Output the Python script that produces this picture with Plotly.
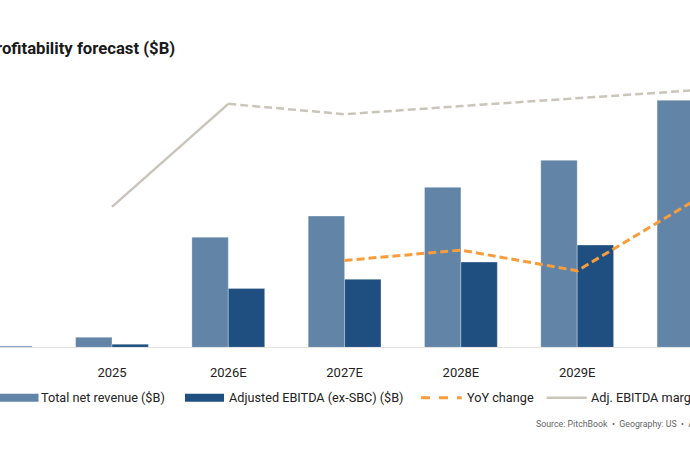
import plotly.graph_objects as go

# ---- data ----
years = ["2024", "2025", "2026E", "2027E", "2028E", "2029E", "2030E"]
revenue = [0.04, 0.42, 4.60, 5.48, 6.68, 7.81, 10.32]      # Total net revenue ($B)
ebitda = [0.04, 0.13, 2.46, 2.84, 3.56, 4.27, 5.90]        # Adjusted EBITDA (ex-SBC) ($B)
yoy_years = ["2027E", "2028E", "2029E", "2030E"]
yoy_pct = [19.3, 21.6, 17.0, 32.5]                          # YoY change (%)
margin_years = ["2025", "2026E", "2027E", "2028E", "2029E", "2030E"]
margin_pct = [31.2, 54.1, 51.8, 53.6, 55.3, 57.1]           # Adj. EBITDA margin (%)

legend_labels = ["Total net revenue ($B)", "Adjusted EBITDA (ex-SBC) ($B)",
                 "YoY change", "Adj. EBITDA margin"]

LIGHT = "#6184a7"
DARK = "#1f4f80"
ORANGE = "#f89d3c"
GRAY = "#c9c5bb"
FONT = "Roboto"

W, H = 690, 450
fig = go.Figure()

fig.add_trace(go.Bar(x=years, y=revenue, name=legend_labels[0], marker_color=LIGHT,
                     marker_line=dict(color="rgba(255,255,255,0.5)", width=0.6),
                     showlegend=False))
fig.add_trace(go.Bar(x=years, y=ebitda, name=legend_labels[1], marker_color=DARK,
                     marker_line=dict(color="rgba(255,255,255,0.5)", width=0.6),
                     showlegend=False))
fig.add_trace(go.Scatter(x=yoy_years, y=yoy_pct, yaxis="y2", mode="lines",
                         line=dict(color=ORANGE, width=3, dash="8px,4px"),
                         name=legend_labels[2], showlegend=False))
fig.add_trace(go.Scatter(x=margin_years[:2], y=margin_pct[:2], yaxis="y2", mode="lines",
                         line=dict(color=GRAY, width=2.5),
                         name=legend_labels[3], showlegend=False))
fig.add_trace(go.Scatter(x=margin_years[1:], y=margin_pct[1:], yaxis="y2", mode="lines",
                         line=dict(color=GRAY, width=2.5, dash="8px,4px"),
                         name=legend_labels[3], showlegend=False))

# plot area: y from 60px to 347.3px (baseline)
ydom = [(H - 347.3) / H, (H - 60) / H]
x_lo = 4.3 / 116.3
x_hi = (690 + 4.3) / 116.3

fig.update_layout(
    width=W, height=H,
    margin=dict(l=0, r=0, t=0, b=0),
    paper_bgcolor="white", plot_bgcolor="white",
    barmode="group", bargap=0.374, bargroupgap=0,
    font=dict(family=FONT, color="#222222", size=13),
    xaxis=dict(domain=[0, 1], range=[x_lo, x_hi], type="category",
               showgrid=False, zeroline=False, showline=True,
               linecolor="#e2e2e2", linewidth=1, ticks="",
               ticklabelstandoff=13, tickfont=dict(size=13, color="#222222")),
    yaxis=dict(domain=ydom, range=[0, 12], visible=False),
    yaxis2=dict(domain=ydom, range=[0, 287.3 / 4.5], overlaying="y", visible=False),
    showlegend=False,
)

# title (left part cut off like the reference)
fig.add_annotation(text="<b>Revenue and profitability forecast ($B)</b>",
                   xref="paper", yref="paper", x=177.5 / W, y=(H - 48) / H,
                   xanchor="right", yanchor="middle", showarrow=False,
                   font=dict(size=16.7, color="#1a1a1a", family=FONT))

# custom legend
ly = (H - 397.7) / H
sw = [(-2, 38.5, LIGHT, 8, None), (185, 224, DARK, 8, None),
      (421, 461.7, ORANGE, 3, "dash"), (546.7, 586.7, GRAY, 2.5, None)]
tx = [39, 226.5, 464.5, 589]
for (x0, x1, c, w, d), t, lab in zip(sw, tx, legend_labels):
    fig.add_shape(type="line", xref="paper", yref="paper", x0=x0 / W, x1=x1 / W,
                  y0=ly, y1=ly, line=dict(color=c, width=w, dash=d))
    fig.add_annotation(text=lab, xref="paper", yref="paper", x=t / W, y=ly,
                       xanchor="left", yanchor="middle", showarrow=False,
                       font=dict(size=12.7, color="#222222", family=FONT))

fig.add_annotation(text="Source: PitchBook  \u2022  Geography: US  \u2022  As of February 2025",
                   xref="paper", yref="paper", x=533.5 / W, y=(H - 424.3) / H,
                   xanchor="left", yanchor="middle", showarrow=False,
                   font=dict(size=8.8, color="#666666", family=FONT))

fig.write_html(
    "out.html",
    config={"displayModeBar": False},
    post_script="document.body.style.margin='0';document.body.style.padding='0';"
                "document.body.style.overflow='hidden';"
                "document.documentElement.style.overflow='hidden';",
)
